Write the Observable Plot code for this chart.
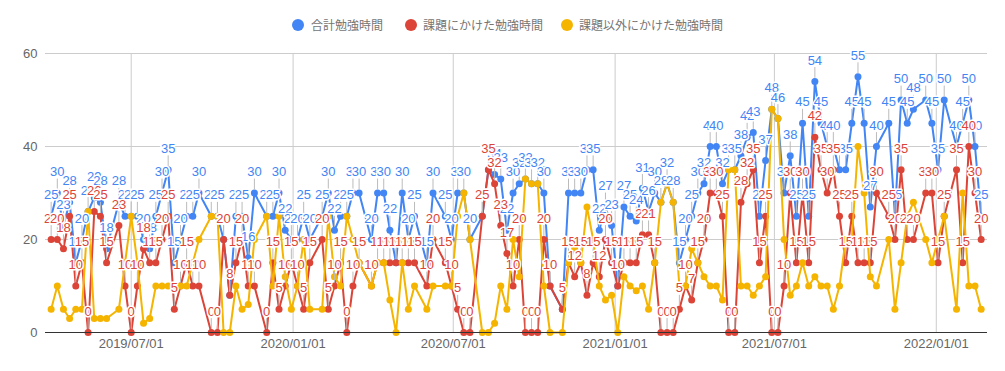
<!DOCTYPE html>
<html><head><meta charset="utf-8">
<script src="https://cdn.jsdelivr.net/npm/d3@7"></script>
<script src="https://cdn.jsdelivr.net/npm/@observablehq/plot@0.6"></script>
<style>
body{margin:0;background:#fff;font-family:Arial,"Liberation Sans","Noto Sans CJK JP",sans-serif;}
#legend{height:40px;position:relative;width:1005px;}
.item{position:absolute;top:18px;height:14px;font-size:12px;line-height:14px;color:#757575;font-family:"Noto Sans CJK JP",sans-serif;}
.sw{position:absolute;top:19px;width:12px;height:12px;border-radius:50%;}
</style></head><body>
<div id="legend"></div><div id="chart"></div>
<script>
const seriesNames = ["合計勉強時間", "課題にかけた勉強時間", "課題以外にかけた勉強時間"];
const seriesColors = ["#4285f4", "#db4437", "#f4b400"];
const yTicks = [0, 20, 40, 60];
const xTicks = ["2019-07-01", "2020-01-01", "2020-07-01", "2021-01-01", "2021-07-01", "2022-01-01"];

const dates = [
"2019-04-01","2019-04-08","2019-04-15","2019-04-22","2019-04-29","2019-05-06","2019-05-13","2019-05-20","2019-05-27","2019-06-03",
"2019-06-17","2019-06-24","2019-07-01","2019-07-08","2019-07-15","2019-07-22","2019-07-29","2019-08-05","2019-08-12","2019-08-19",
"2019-08-26","2019-09-02","2019-09-09","2019-09-16","2019-09-30","2019-10-07","2019-10-14","2019-10-21","2019-10-28","2019-11-04",
"2019-11-11","2019-11-18","2019-12-02","2019-12-09","2019-12-16","2019-12-23","2019-12-30","2020-01-06","2020-01-13","2020-01-20",
"2020-02-03","2020-02-10","2020-02-17","2020-02-24","2020-03-02","2020-03-09","2020-03-16","2020-03-30","2020-04-06","2020-04-13",
"2020-04-20","2020-04-27","2020-05-04","2020-05-11","2020-05-18","2020-06-01","2020-06-08","2020-06-22","2020-06-29","2020-07-06",
"2020-07-13","2020-07-20","2020-08-03","2020-08-10","2020-08-17","2020-08-24","2020-08-31","2020-09-07","2020-09-14","2020-09-21",
"2020-09-28","2020-10-05","2020-10-12","2020-10-19","2020-11-02","2020-11-09","2020-11-16","2020-11-23","2020-11-30","2020-12-07",
"2020-12-14","2020-12-21","2020-12-28","2021-01-04","2021-01-11","2021-01-18","2021-01-25","2021-02-01","2021-02-08","2021-02-15",
"2021-02-22","2021-03-01","2021-03-08","2021-03-15","2021-03-22","2021-03-29","2021-04-05","2021-04-12","2021-04-19","2021-04-26",
"2021-05-03","2021-05-10","2021-05-17","2021-05-24","2021-05-31","2021-06-07","2021-06-14","2021-06-21","2021-06-28","2021-07-05",
"2021-07-12","2021-07-19","2021-07-26","2021-08-02","2021-08-09","2021-08-16","2021-08-23","2021-08-30","2021-09-06","2021-09-13",
"2021-09-20","2021-09-27","2021-10-04","2021-10-11","2021-10-18","2021-10-25","2021-11-08","2021-11-15","2021-11-22","2021-11-29",
"2021-12-06","2021-12-20","2021-12-27","2022-01-03","2022-01-10","2022-01-24","2022-01-31","2022-02-07","2022-02-14","2022-02-21"];

const total = [
25,30,23,28,15,20,26,29,28,18,
28,25,25,25,20,18,25,30,35,15,
20,25,25,30,25,25,20,8,25,25,
16,30,25,25,30,22,20,20,25,20,
25,30,22,25,25,30,30,20,30,30,
22,15,30,20,25,15,30,25,20,30,
30,20,25,35,34,33,22,30,32,33,
32,32,30,10,5,30,30,30,35,35,
22,27,23,10,27,25,24,31,26,30,
28,32,28,15,20,25,30,32,40,40,
32,35,35,38,42,43,25,37,48,46,
30,38,25,45,25,54,45,40,40,35,
35,45,55,45,27,40,45,25,50,45,
48,50,45,35,50,40,45,50,40,25];

const assignment = [
20,20,18,25,10,15,0,26,25,15,
23,10,0,10,18,15,15,20,25,5,
10,15,10,10,0,0,20,8,15,20,
10,10,0,15,5,10,15,10,5,15,
20,5,10,15,0,10,15,10,15,15,
15,15,15,15,15,10,20,15,10,5,
0,0,25,35,32,23,17,10,20,0,
0,0,20,10,5,15,12,15,8,15,
12,20,15,10,15,15,15,21,21,15,
0,0,0,5,10,7,15,20,30,30,
25,0,0,28,32,35,15,25,0,0,
10,30,15,30,15,42,35,30,35,25,
15,25,15,15,15,30,25,20,35,20,
20,30,30,15,25,35,15,40,30,20];

const other = [
5,10,5,3,5,5,26,3,3,3,
5,15,25,15,2,3,10,10,10,10,
10,10,15,20,25,25,0,0,10,5,
6,20,25,10,25,12,5,10,20,5,
5,25,12,10,25,20,15,10,15,15,
7,0,15,5,10,5,10,10,10,25,
30,20,0,0,2,10,5,20,12,33,
32,32,10,0,0,15,18,15,27,20,
10,7,8,0,12,10,9,10,5,15,
28,32,28,10,10,18,15,12,10,10,
7,35,35,10,10,8,10,12,48,46,
20,8,10,15,10,12,10,10,5,10,
20,20,40,30,12,10,20,5,15,25,
28,20,15,20,25,5,30,10,10,5];

const data = dates.map((d, i) => ({date: new Date(d + "T00:00Z"), total: total[i], assignment: assignment[i], other: other[i]}));
const keys = ["total", "assignment", "other"];

// legend
const legend = document.getElementById("legend");
const swX = [292, 405, 561], txX = [311, 423, 579];
seriesNames.forEach((n, i) => {
  const s = document.createElement("div"); s.className = "sw"; s.style.left = swX[i] + "px"; s.style.background = seriesColors[i]; legend.appendChild(s);
  const t = document.createElement("div"); t.className = "item"; t.style.left = txX[i] + "px"; t.textContent = n; legend.appendChild(t);
});

function build(withStems) {
  const marks = [
    Plot.gridY(yTicks.filter(v => v > 0), {stroke: "#cccccc", strokeOpacity: 1}),
    Plot.gridX(xTicks.map(d => new Date(d + "T00:00Z")), {stroke: "#cccccc", strokeOpacity: 1}),
    Plot.axisY(yTicks, {tickSize: 0, tickPadding: 8, fill: "#666", fontSize: 13, label: null}),
    Plot.axisX(xTicks.map(d => new Date(d + "T00:00Z")), {tickSize: 0, tickPadding: 6, fill: "#666", fontSize: 13, label: null, tickFormat: d3.utcFormat("%Y/%m/%d")}),
  ];
  keys.forEach((k, i) => {
    marks.push(Plot.line(data, {x: "date", y: k, stroke: seriesColors[i], strokeWidth: 2}));
    marks.push(Plot.dot(data, {x: "date", y: k, r: 3.5, fill: seriesColors[i], stroke: null}));
  });
  marks.push(Plot.ruleY([0], {stroke: "#333", strokeWidth: 1}));
  [0, 1].forEach(i => {
    const k = keys[i];
    if (withStems) marks.push(Plot.vector(data, {x: "date", y: k, length: 10, rotate: 0, anchor: "start", dy: -4, stroke: "#bbbbbb", strokeWidth: 1,
      shape: {draw(ctx, l) { ctx.moveTo(0, 0); ctx.lineTo(0, -l); }}}));
  });
  [0, 1].forEach(i => {
    const k = keys[i];
    marks.push(Plot.text(data, {x: "date", y: k, text: d => String(d[k]), dy: -21, fill: seriesColors[i], stroke: "white", strokeWidth: 3, paintOrder: "stroke", fontSize: 13}));
  });
  return Plot.plot({
    width: 1005, height: 331,
    marginTop: 13, marginBottom: 39, marginLeft: 45, marginRight: 18,
    x: {type: "utc", domain: [new Date("2019-03-25T14:00Z"), new Date("2022-02-28T05:00Z")], label: null},
    y: {domain: [0, 60], label: null},
    style: {fontFamily: "Arial, 'Liberation Sans', sans-serif", fontSize: "13px", background: "white", overflow: "visible"},
    marks
  });
}
let chart;
try { chart = build(true); } catch (e) { chart = build(false); }
document.getElementById("chart").appendChild(chart);
</script>
</body></html>
